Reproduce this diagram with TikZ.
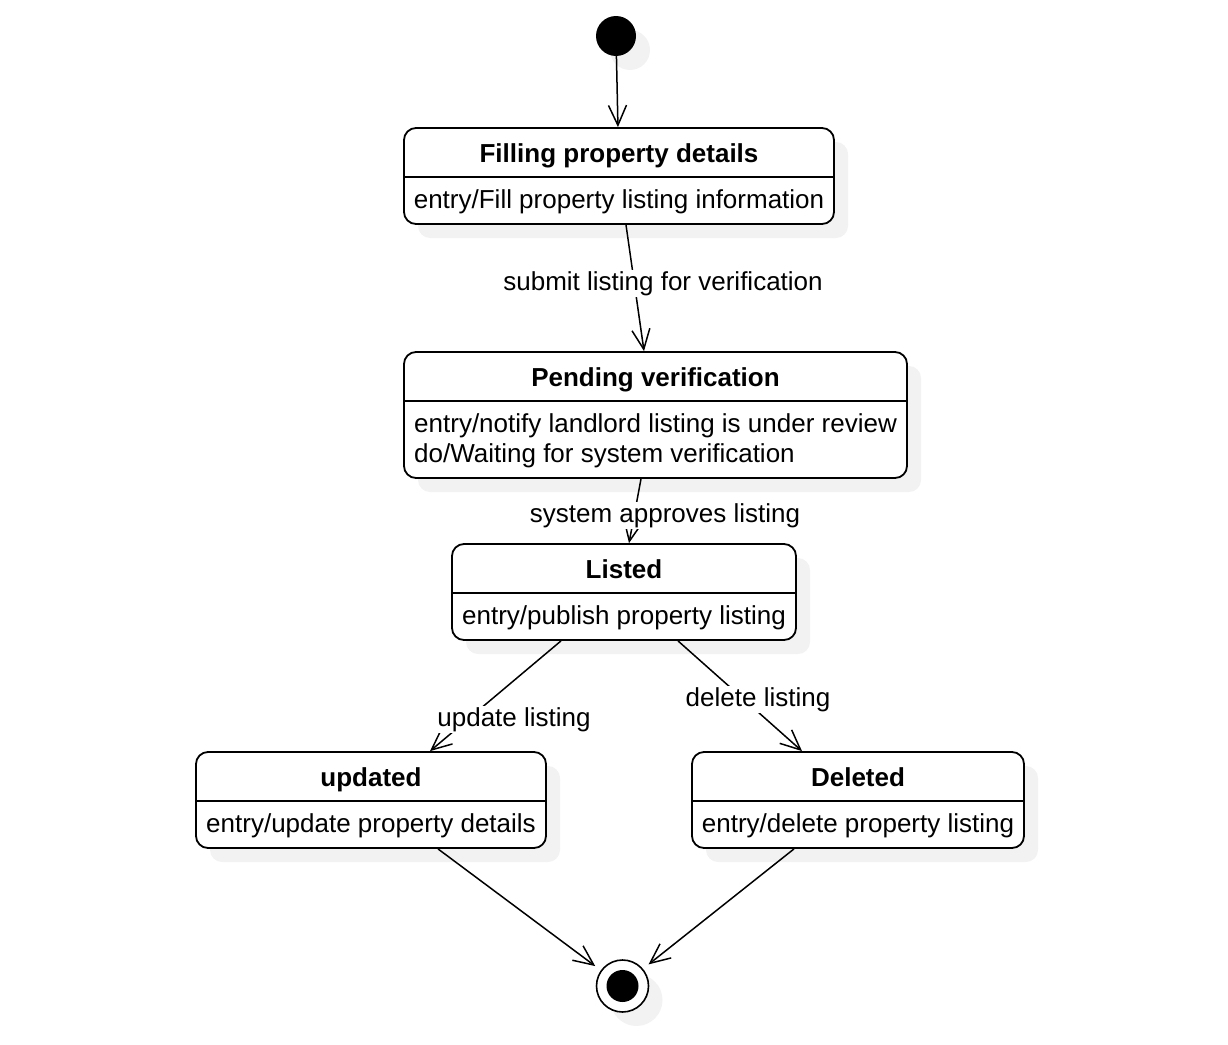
\documentclass[tikz,border=0pt]{standalone}
\usepackage{fontspec}
\setmainfont{Liberation Sans}
\usetikzlibrary{arrows.meta,shadows}
\begin{document}
\begin{tikzpicture}[x=1pt,y=-1pt,
  font=\fontsize{26}{30}\selectfont,
  shd/.style={general shadow={shadow xshift=14pt, shadow yshift=-14pt, fill=black!5, draw=none}},
  state/.style={draw, line width=1.8pt, rounded corners=12pt, fill=white, inner sep=0pt, shd},
  ttl/.style={font=\fontsize{26}{30}\selectfont\bfseries, inner sep=0pt, anchor=base},
  txt/.style={inner sep=0pt, anchor=base},
  txtl/.style={inner sep=0pt, anchor=base west},
  tr/.style={draw, line width=1.5pt, -{Straight Barb[length=20pt,width=18pt,line width=1.5pt]}},
  lbl/.style={fill=white, inner sep=1.5pt, anchor=base},
  divl/.style={line width=1.8pt}
]
\useasboundingbox (0,0) rectangle (1228,1044);

% initial state
\node[circle, fill=black, minimum size=40pt, inner sep=0pt, shd] (ini) at (616,36) {};

% states
\node[state, minimum width=430pt, minimum height=96pt] (b1) at (619,176) {};
\draw[divl] ([yshift=-50pt]b1.north west) -- ([yshift=-50pt]b1.north east);
\node[ttl] (b1t) at (619,162) {Filling property details};
\node[txt] (b1a) at (619,208) {entry/Fill property listing information};

\node[state, minimum width=503pt, minimum height=126pt] (b2) at (655.5,415) {};
\draw[divl] ([yshift=-50pt]b2.north west) -- ([yshift=-50pt]b2.north east);
\node[ttl] (b2t) at (655.5,386) {Pending verification};
\node[txtl] (b2a) at (414,432) {entry/notify landlord listing is under review};
\node[txtl] (b2b) at (414,462) {do/Waiting for system verification};

\node[state, minimum width=344pt, minimum height=96pt] (b3) at (624,592) {};
\draw[divl] ([yshift=-50pt]b3.north west) -- ([yshift=-50pt]b3.north east);
\node[ttl] (b3t) at (624,578) {Listed};
\node[txt] (b3a) at (624,624) {entry/publish property listing};

\node[state, minimum width=350pt, minimum height=96pt] (upd) at (371,800) {};
\draw[divl] ([yshift=-50pt]upd.north west) -- ([yshift=-50pt]upd.north east);
\node[ttl] (updt) at (371,786) {updated};
\node[txt] (upda) at (371,832) {entry/update property details};

\node[state, minimum width=332pt, minimum height=96pt] (del) at (858,800) {};
\draw[divl] ([yshift=-50pt]del.north west) -- ([yshift=-50pt]del.north east);
\node[ttl] (delt) at (858,786) {Deleted};
\node[txt] (dela) at (858,832) {entry/delete property listing};

% final state
\node[circle, draw, line width=1.6pt, fill=white, minimum size=52pt, inner sep=0pt, shd] (fin) at (622.5,986) {};
\node[circle, fill=black, minimum size=32pt, inner sep=0pt] (finc) at (fin) {};

% transitions
\draw[tr] (ini) -- (b1);
\draw[tr] ([xshift=7pt]b1.south) -- ([xshift=-11.5pt]b2.north);
\draw[tr] ([xshift=-14.5pt]b2.south) -- ([xshift=5pt]b3.north);
\draw[tr] ([xshift=-63pt]b3.south) -- ([xshift=59pt]upd.north);
\draw[tr] ([xshift=54pt]b3.south) -- ([xshift=-56pt]del.north);
\draw[tr, shorten >=7pt] ([xshift=67pt]upd.south) -- (fin.144);
\draw[tr, shorten >=7pt] ([xshift=-64pt]del.south) -- (fin.40);

% labels
\node[lbl] (l1) at (663,290) {submit listing for verification};
\node[lbl] (l2) at (665,522) {system approves listing};
\node[lbl] (l3) at (514,726) {update listing};
\node[lbl] (l4) at (758,706) {delete listing};
\end{tikzpicture}
\end{document}
